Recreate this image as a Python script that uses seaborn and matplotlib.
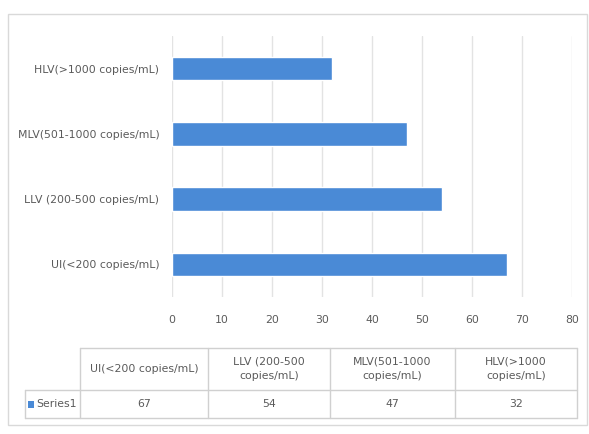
import matplotlib
matplotlib.use("Agg")
import matplotlib.pyplot as plt
import seaborn as sns
import pandas as pd
from matplotlib.patches import Rectangle
from matplotlib.lines import Line2D

categories = ["UI(<200 copies/mL)", "LLV (200-500 copies/mL)",
              "MLV(501-1000 copies/mL)", "HLV(>1000 copies/mL)"]
table_headers = ["UI(<200 copies/mL)", "LLV (200-500\ncopies/mL)",
                 "MLV(501-1000\ncopies/mL)", "HLV(>1000\ncopies/mL)"]
values = [67, 54, 47, 32]
series_name = "Series1"
x_ticks = [0, 10, 20, 30, 40, 50, 60, 70, 80]

BAR = "#4A8AD6"
TXT = "#5A5A5A"
GRID = "#E3E3E3"
FS = 7.8

sns.set_theme(style="white")
plt.rcParams["font.family"] = ["DejaVu Sans"]

W, H = 589, 434
fig = plt.figure(figsize=(W / 100, H / 100), dpi=100)

def fx(px):
    return px / W

def fy(py):
    return 1 - py / H

ax = fig.add_axes([fx(172), fy(297), fx(572) - fx(172), fy(36) - fy(297)])
df = pd.DataFrame({"cat": categories, "val": values})
sns.barplot(data=df, y="cat", x="val", order=categories[::-1], color=BAR,
            saturation=1, width=0.36, ax=ax, orient="h")
ax.set_xlim(0, 80)
ax.set_xticks(x_ticks)
ax.set_xticklabels([str(t) for t in x_ticks])
ax.set_xlabel("")
ax.set_ylabel("")
for s in ax.spines.values():
    s.set_visible(False)
ax.grid(axis="x", color=GRID, linewidth=1)
ax.set_axisbelow(True)
ax.tick_params(axis="x", length=0, pad=13, labelsize=FS, colors=TXT)
ax.tick_params(axis="y", length=0, pad=9, labelsize=FS, colors=TXT)

# outer chart border
fig.add_artist(Rectangle((fx(8), fy(425)), fx(587) - fx(8), fy(14) - fy(425),
                         transform=fig.transFigure, fill=False,
                         edgecolor="#D9D9D9", linewidth=1))

# data table
LC = "#D0D0D0"
col_x = [80, 208, 330, 455, 577]
y_top, y_mid, y_bot = 348, 390, 418
leg_x = 25

def hline(x0, x1, y):
    fig.add_artist(Line2D([fx(x0), fx(x1)], [fy(y), fy(y)], color=LC, lw=1,
                          transform=fig.transFigure))

def vline(x, y0, y1):
    fig.add_artist(Line2D([fx(x), fx(x)], [fy(y0), fy(y1)], color=LC, lw=1,
                          transform=fig.transFigure))

hline(col_x[0], col_x[-1], y_top)
hline(leg_x, col_x[-1], y_mid)
hline(leg_x, col_x[-1], y_bot)
for cx in col_x:
    vline(cx, y_top, y_bot)
vline(leg_x, y_mid, y_bot)

for i, (hdr, v) in enumerate(zip(table_headers, values)):
    cxm = (col_x[i] + col_x[i + 1]) / 2
    fig.text(fx(cxm), fy((y_top + y_mid) / 2), hdr, ha="center", va="center",
             fontsize=FS, color=TXT, linespacing=1.5)
    fig.text(fx(cxm), fy((y_mid + y_bot) / 2), str(v), ha="center", va="center",
             fontsize=FS, color=TXT)

# legend key in table
fig.add_artist(Rectangle((fx(28), fy(408)), fx(6), fy(401) - fy(408),
                         transform=fig.transFigure, facecolor=BAR, edgecolor="none"))
fig.text(fx(36), fy((y_mid + y_bot) / 2), series_name, ha="left", va="center",
         fontsize=FS, color=TXT)

fig.savefig("out.png", dpi=100, facecolor="white")
